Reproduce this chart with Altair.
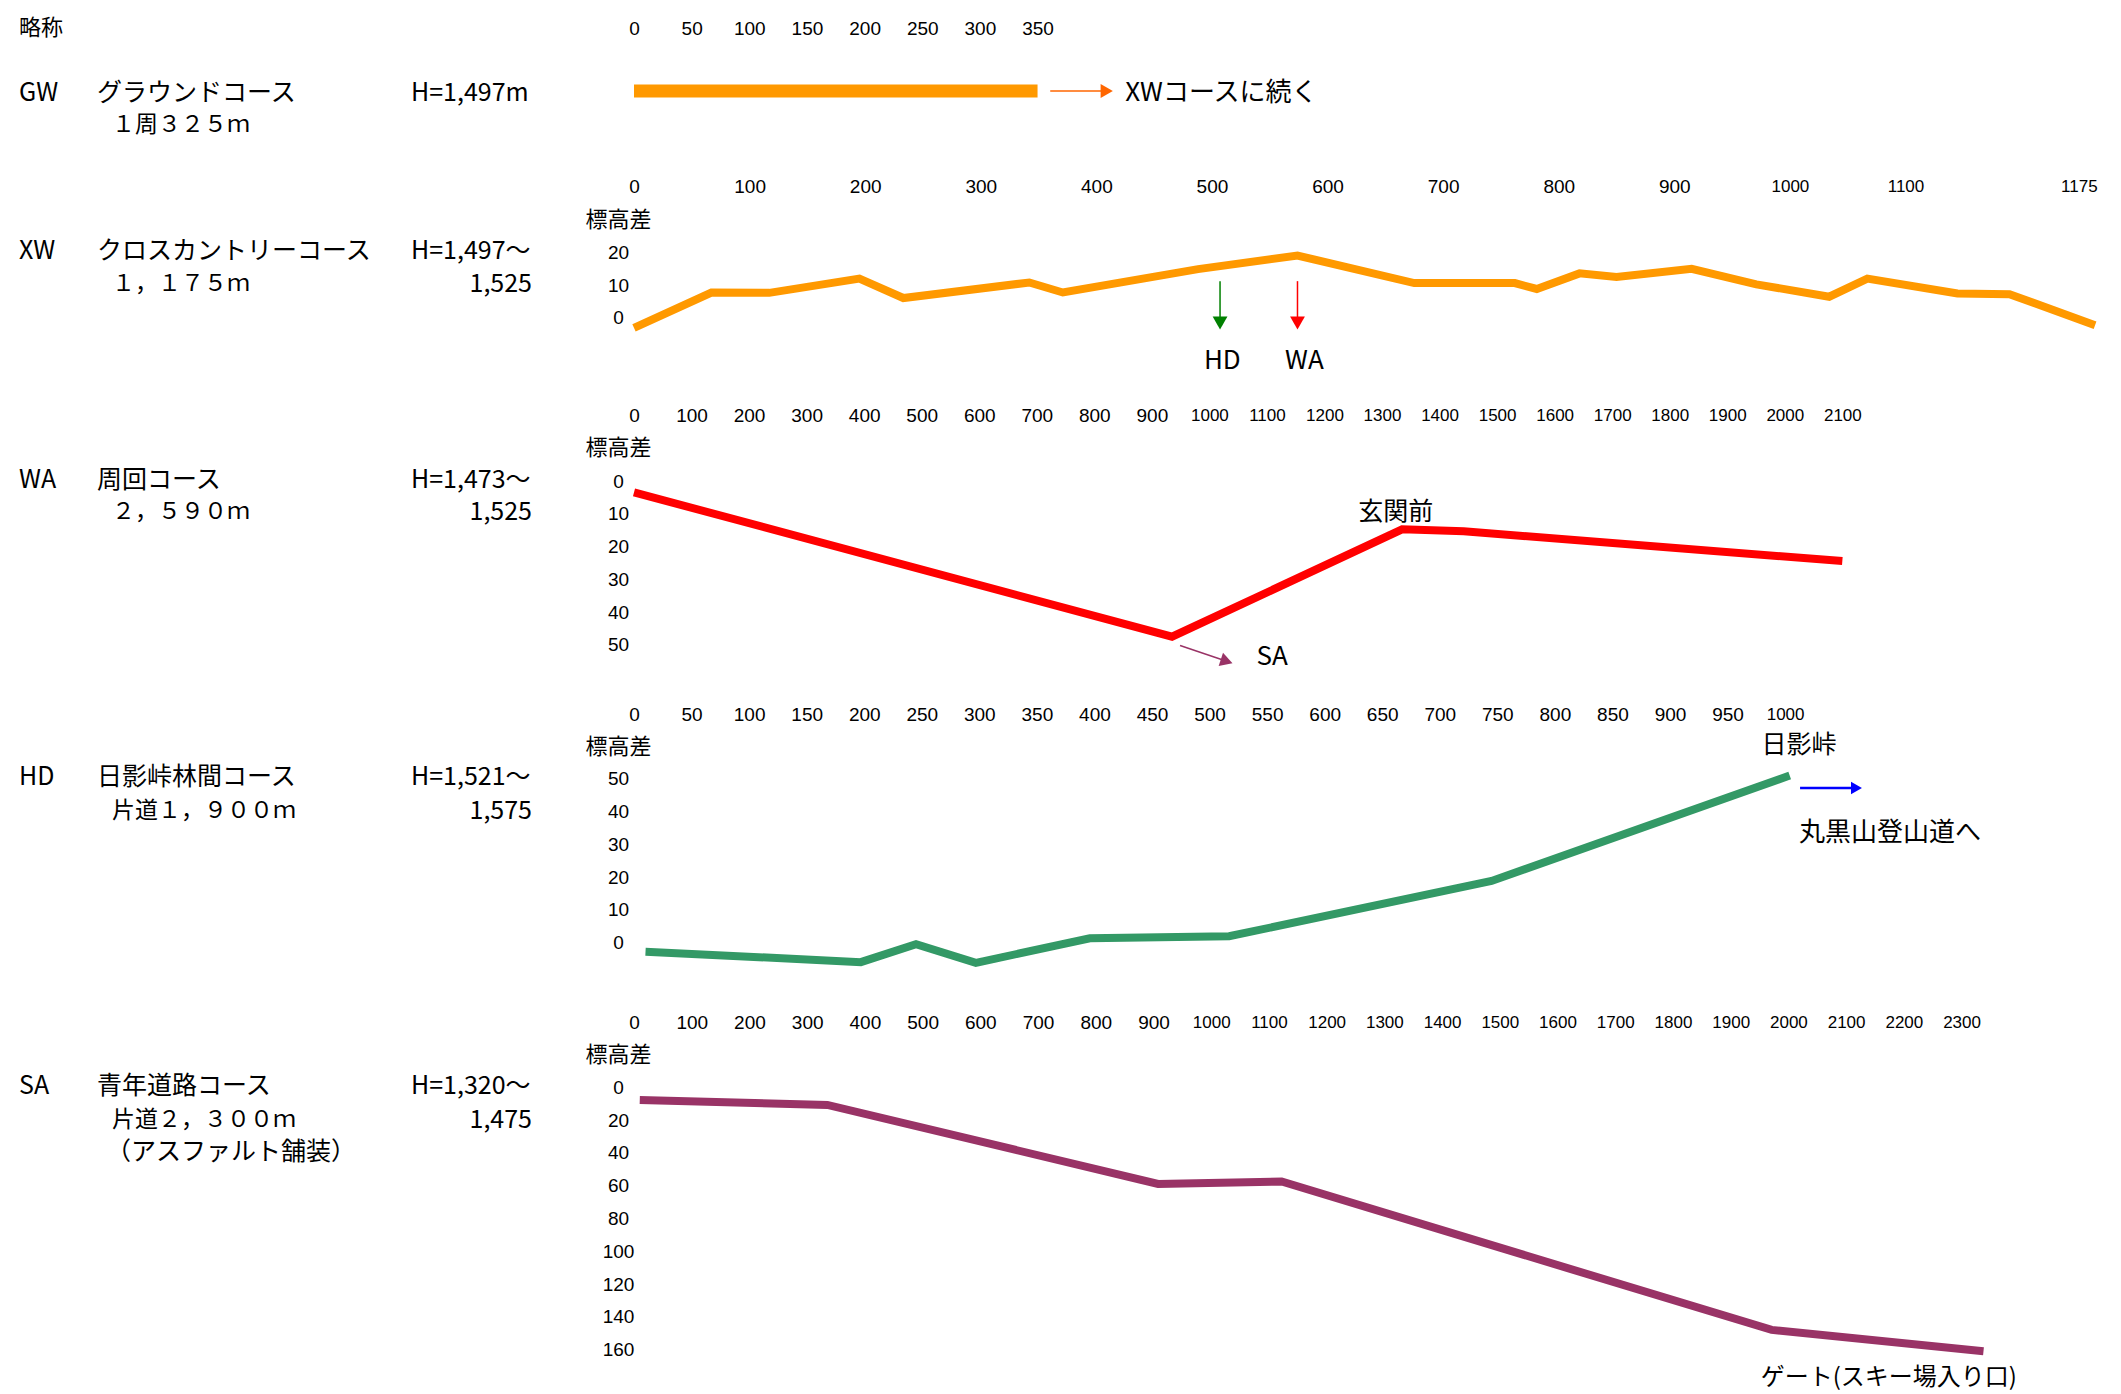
import altair as alt
import pandas as pd

# ---------------- data ----------------
ABBR_HEAD = "略称"
ABBR = ["GW", "XW", "WA", "HD", "SA"]
COURSE = ["グラウンドコース", "クロスカントリーコース", "周回コース", "日影峠林間コース", "青年道路コース"]
LENGTH = ["１周３２５ｍ", "１，１７５ｍ", "２，５９０ｍ", "片道１，９００ｍ", "片道２，３００ｍ"]
SA_PAVED = "（アスファルト舗装）"
H_FROM = ["H=1,497m", "H=1,497～", "H=1,473～", "H=1,521～", "H=1,320～"]
H_TO = ["", "1,525", "1,525", "1,575", "1,475"]
Y_TITLE = "標高差"

GW_DIST = [0, 350]
GW_ELEV = [0, 0]
GW_NOTE = "XWコースに続く"

XW_DIST = [0, 67, 117, 195, 233, 342, 371, 488, 574, 675, 762, 781, 818, 850,
           915, 971, 1034, 1067, 1145, 1190, 1264]
XW_ELEV = [-3.2, 7.7, 7.6, 12.0, 6.0, 10.8, 7.7, 14.9, 19.1, 10.6, 10.6, 8.8,
           13.6, 12.5, 15.0, 10.2, 6.4, 12.0, 7.4, 7.2, -2.4]
XW_MARKS = ["HD", "WA"]

WA_DIST = [0, 935, 1335, 1442, 2100]
WA_DROP = [3.4, 47.5, 14.7, 15.3, 24.4]
WA_NOTE = "玄関前"
WA_TO = "SA"

HD_DIST = [10, 197, 245, 297, 396, 517, 745, 1004]
HD_ELEV = [-2.8, -6.0, -0.5, -6.2, 1.3, 1.9, 18.8, 51.0]
HD_PASS = "日影峠"
HD_NOTE = "丸黒山登山道へ"

SA_DIST = [10, 335, 908, 1122, 1971, 2338]
SA_DROP = [7.8, 10.8, 59.0, 57.5, 148.0, 161.0]
SA_NOTE = "ゲート(スキー場入り口)"

GW_XT = list(range(0, 351, 50))
XW_XT = list(range(0, 1101, 100)) + [1250]
XW_XT_LAST = "1175"
WA_XT = list(range(0, 2101, 100))
HD_XT = list(range(0, 1001, 50))
SA_XT = list(range(0, 2301, 100))
XW_YT = [0, 10, 20]
WA_YT = [0, 10, 20, 30, 40, 50]
HD_YT = [0, 10, 20, 30, 40, 50]
SA_YT = list(range(0, 161, 20))

# ---------------- style / layout ----------------
ORANGE = "#FF9900"
ARROW_ORANGE = "#FF6600"
RED = "#FF0000"
GREEN = "#339966"
DARK_GREEN = "#008000"
PLUM = "#993366"
BLUE = "#0000FF"
FONT_JP = "Noto Sans CJK JP"
FONT_NUM = "Liberation Sans, Arial, sans-serif"

X0 = 634          # page x of every panel's left edge
W = 1470          # panel width
LINE_W = 8


def xscale(px_per_m):
    return alt.Scale(domain=[0, W / px_per_m], nice=False, zero=False)


def yscale(top, bottom, y_zero, px_per_unit, reverse=False):
    if reverse:
        dom = [(top - y_zero) / px_per_unit, (bottom - y_zero) / px_per_unit]
    else:
        dom = [(y_zero - bottom) / px_per_unit, (y_zero - top) / px_per_unit]
    return alt.Scale(domain=dom, nice=False, zero=False, reverse=reverse)


def xaxis(values, label_expr=None):
    kw = dict(orient="top", values=values, title=None, domain=False, ticks=False,
              tickSize=0, grid=False, labelPadding=20, labelBaseline="middle",
              labelAlign="center", labelFont=FONT_NUM, format="d",
              labelFontSize={"condition": {"test": "datum.value >= 1000", "value": 17},
                             "value": 19},
              labelColor="black", labelFlush=False, labelOverlap=False, labelAngle=0)
    if label_expr:
        kw["labelExpr"] = label_expr
    return alt.Axis(**kw)


def yaxis(values, title_y):
    return alt.Axis(orient="left", values=values, title=Y_TITLE, titleAngle=0,
                    titleAlign="center", titleBaseline="middle", titleX=-16,
                    titleY=title_y, titleFont=FONT_JP, titleFontSize=22,
                    titleFontWeight="normal", titleColor="black", domain=False,
                    ticks=False, tickSize=0, grid=False, labelAlign="center",
                    labelBaseline="middle", labelPadding=16, labelFont=FONT_NUM,
                    labelFontSize=19, labelColor="black", labelFlush=False,
                    labelOverlap=False, format="d")


class Panel:
    def __init__(self, top, bottom, xs, ys, xa, ya):
        self.top, self.bottom = top, bottom
        self.xs, self.ys, self.xa, self.ya = xs, ys, xa, ya
        self.layers = []

    def X(self, f="m"):
        return alt.X(f + ":Q", scale=self.xs, axis=self.xa)

    def Y(self, f="v"):
        return alt.Y(f + ":Q", scale=self.ys, axis=self.ya)

    def line(self, dist, vals, color):
        df = pd.DataFrame({"m": dist, "v": vals})
        self.layers.append(alt.Chart(df).mark_line(
            color=color, strokeWidth=LINE_W, strokeJoin="miter", strokeCap="butt"
        ).encode(x=self.X(), y=self.Y()))

    def bar(self, dist, vals, color, width):
        df = pd.DataFrame({"m": [dist[0]], "m2": [dist[-1]], "v": [vals[0]]})
        self.layers.append(alt.Chart(df).mark_rule(
            color=color, strokeWidth=width, strokeCap="butt"
        ).encode(x=self.X(), x2="m2:Q", y=self.Y()))

    def arrow(self, m1, v1, m2, v2, color, shape, size, width=1.5, angle=0):
        df = pd.DataFrame({"m": [m1], "v": [v1], "m2": [m2], "v2": [v2]})
        self.layers.append(alt.Chart(df).mark_rule(color=color, strokeWidth=width)
                           .encode(x=self.X(), y=self.Y(), x2="m2:Q", y2="v2:Q"))
        hd = pd.DataFrame({"m": [m2], "v": [v2]})
        self.layers.append(alt.Chart(hd).mark_point(
            shape=shape, size=size, filled=True, color=color, opacity=1,
            angle=angle, strokeWidth=0
        ).encode(x=self.X(), y=self.Y()))

    def note(self, text, m, v, size=25, align="center"):
        df = pd.DataFrame({"t": [text], "m": [m], "v": [v]})
        self.layers.append(alt.Chart(df).mark_text(
            align=align, baseline="middle", font=FONT_JP, fontSize=size, color="black"
        ).encode(x=self.X(), y=self.Y(), text="t:N"))

    def side(self, text, px, py, size=25, align="left"):
        if not text:
            return
        df = pd.DataFrame({"t": [text]})
        self.layers.append(alt.Chart(df).mark_text(
            align=align, baseline="middle", font=FONT_JP, fontSize=size, color="black"
        ).encode(x=alt.value(px - X0), y=alt.value(py - self.top), text="t:N"))

    def row(self, i, y1, y2):
        self.side(ABBR[i], 19, y1)
        self.side(COURSE[i], 97, y1)
        self.side(H_FROM[i], 411, y1)
        self.side(LENGTH[i], 112, y2, size=23)
        self.side(H_TO[i], 532, y2, align="right")

    def chart(self):
        return alt.layer(*self.layers).properties(width=W, height=self.bottom - self.top)


# ---- GW ----
gw = Panel(47, 205, xscale(1.153), yscale(47, 205, 90, 10), xaxis(GW_XT), None)
gw.bar(GW_DIST, GW_ELEV, ORANGE, 13)
gw.arrow(361, 0, 410, 0, ARROW_ORANGE, "triangle-right", 200)
gw.note(GW_NOTE, 426, -0.2, size=26, align="left")
gw.side(ABBR_HEAD, 19, 27, size=22)
gw.row(0, 92, 124)

# ---- XW ----
xw = Panel(205, 434, xscale(1.1559), yscale(205, 434, 316.5, 3.245),
           xaxis(XW_XT, "datum.value == 1250 ? '%s' : datum.label" % XW_XT_LAST),
           yaxis(XW_YT, 218 - 205))
xw.line(XW_DIST, XW_ELEV, ORANGE)
xw.arrow(507, 11.2, 507, -1.7, DARK_GREEN, "triangle-down", 220)
xw.arrow(574, 11.2, 574, -1.7, RED, "triangle-down", 220)
xw.note(XW_MARKS[0], 509, -13.4, size=26)
xw.note(XW_MARKS[1], 580, -13.4, size=26)
xw.row(1, 250, 283)

# ---- WA ----
wa = Panel(434, 733, xscale(0.5754), yscale(434, 733, 480.2, 3.274, reverse=True),
           xaxis(WA_XT), yaxis(WA_YT, 446 - 434))
wa.line(WA_DIST, WA_DROP, RED)
wa.note(WA_NOTE, 1324, 9.4, size=25)
wa.arrow(949, 50.2, 1030, 55.0, PLUM, "triangle-right", 200, angle=18)
wa.note(WA_TO, 1109, 53.7, size=26)
wa.row(2, 479, 511)

# ---- HD ----
hd = Panel(733, 1041, xscale(1.1511), yscale(733, 1041, 941.5, 3.274),
           xaxis(HD_XT), yaxis(HD_YT, 745 - 733))
hd.line(HD_DIST, HD_ELEV, GREEN)
hd.note(HD_PASS, 1012, 60.3, size=25)
hd.arrow(1013, 47.2, 1062, 47.2, BLUE, "triangle-right", 160, width=2.5)
hd.note(HD_NOTE, 1012, 33.4, size=26, align="left")
hd.row(3, 776, 810)

# ---- SA ----
sa = Panel(1041, 1370, xscale(0.5772), yscale(1041, 1370, 1086.2, 1.640, reverse=True),
           xaxis(SA_XT), yaxis(SA_YT, 1053 - 1041))
sa.line(SA_DIST, SA_DROP, PLUM)
sa.note(SA_NOTE, 1952, 177.5, size=24, align="left")
sa.row(4, 1085, 1119)
sa.side(SA_PAVED, 106, 1151)

chart = alt.vconcat(
    gw.chart(), xw.chart(), wa.chart(), hd.chart(), sa.chart(),
    spacing=0, bounds="flush"
).properties(
    padding={"left": 11, "top": 9, "right": 0, "bottom": 0},
    background="white"
).configure_view(stroke=None, strokeWidth=0)

chart.save("out.html", embed_options={"renderer": "svg", "actions": False})
